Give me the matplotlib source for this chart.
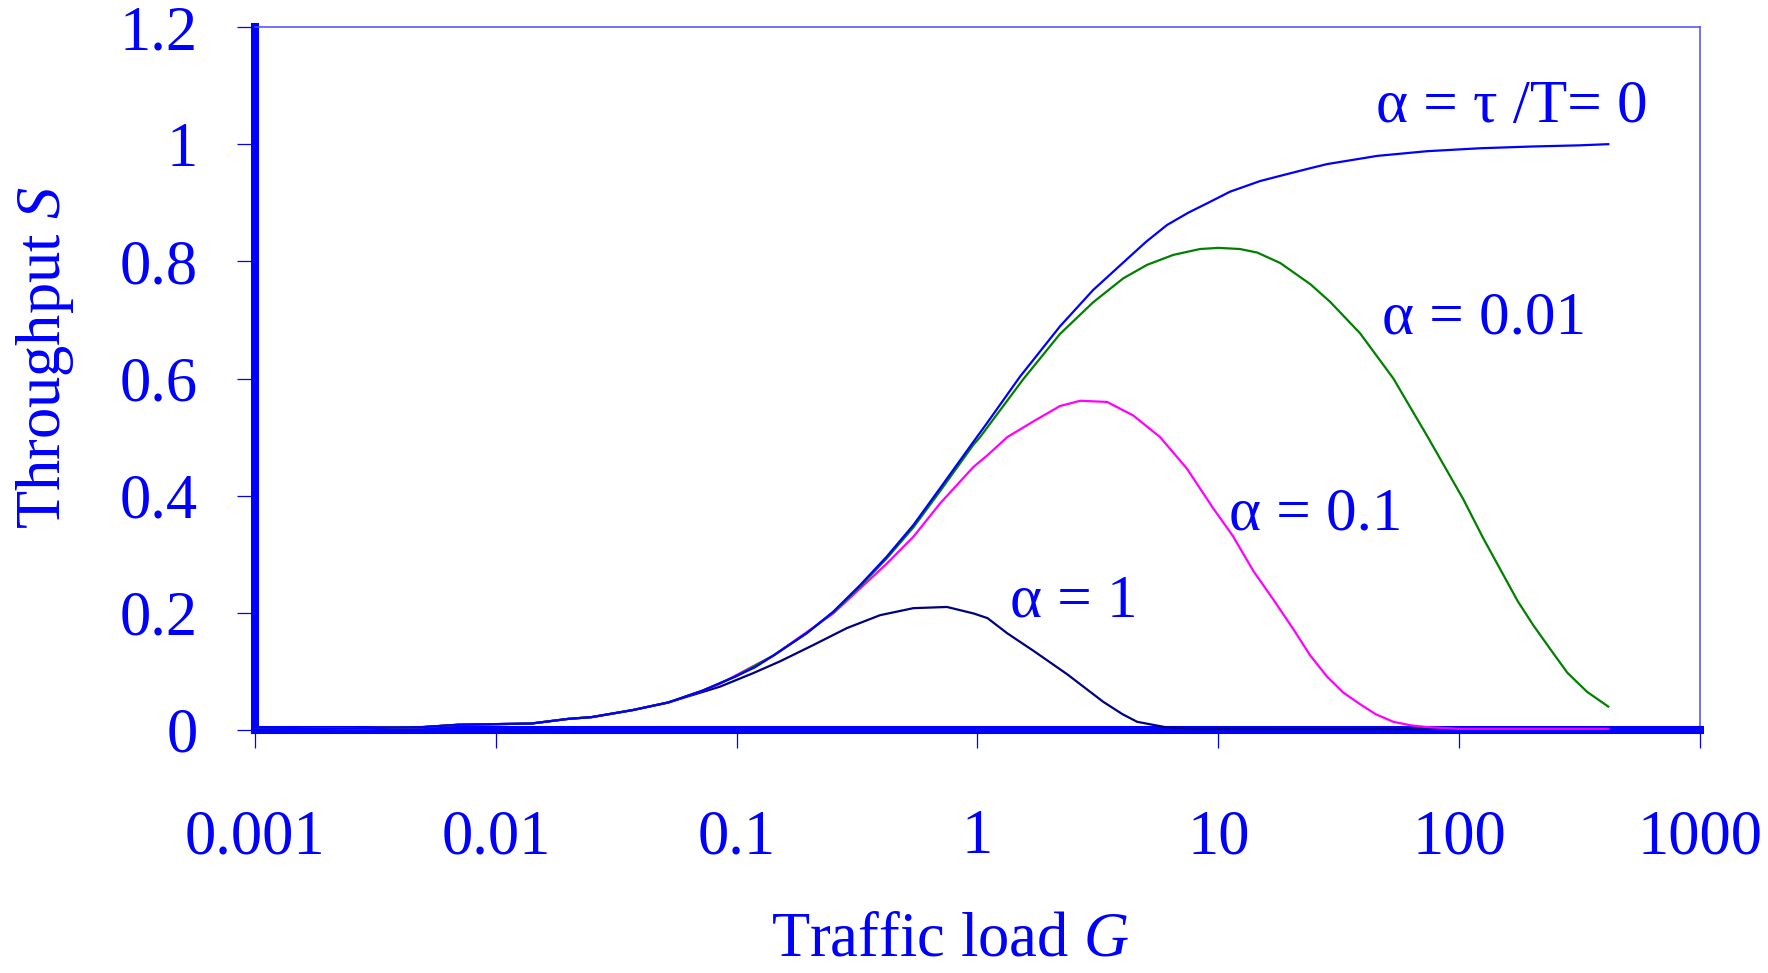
import matplotlib
matplotlib.use("Agg")
import matplotlib.pyplot as plt
import numpy as np

# ---------------- data ----------------
G_low = [0.001, 0.002, 0.005, 0.007, 0.014, 0.02, 0.025, 0.037, 0.052]
S_low = [0.001, 0.002, 0.005, 0.009, 0.011, 0.019, 0.022, 0.034, 0.047]

G_a0 = [0.072, 0.0985, 0.119, 0.142, 0.195, 0.252, 0.325, 0.42, 0.542, 0.70,
        0.962, 1.10, 1.5, 2.2, 3.02, 4.03, 5.0, 6.12, 7.5, 8.98, 11.2, 14.9,
        18.1, 24.1, 28.3, 45.7, 73.6, 122, 200, 316, 416]
S_a0 = [0.067, 0.091, 0.107, 0.127, 0.165, 0.202, 0.247, 0.296, 0.350, 0.413,
        0.492, 0.525, 0.603, 0.689, 0.751, 0.798, 0.833, 0.862, 0.883, 0.899,
        0.919, 0.937, 0.946, 0.959, 0.966, 0.980, 0.988, 0.993, 0.996, 0.998,
        1.000]

G_a001 = [0.072, 0.0985, 0.142, 0.195, 0.252, 0.325, 0.42, 0.542, 0.70, 0.962,
          1.025, 1.55, 2.2, 3.02, 4.03, 5.06, 6.5, 8.39, 10.0, 12.3, 14.5,
          18.1, 24.1, 29.1, 38.8, 53.3, 73.6, 104, 126, 152, 175, 203, 240,
          281, 340, 416]
S_a001 = [0.067, 0.091, 0.127, 0.165, 0.201, 0.245, 0.293, 0.346, 0.408, 0.487,
          0.500, 0.599, 0.676, 0.730, 0.771, 0.794, 0.811, 0.821, 0.823, 0.821,
          0.815, 0.797, 0.761, 0.731, 0.677, 0.600, 0.502, 0.394, 0.327, 0.266,
          0.220, 0.179, 0.137, 0.098, 0.065, 0.040]

G_a01 = [0.072, 0.0853, 0.142, 0.252, 0.42, 0.542, 0.70, 0.962, 1.10, 1.33,
         1.71, 2.2, 2.67, 3.45, 4.43, 5.73, 7.41, 9.5, 11.5, 14.0, 16.9, 20.5,
         24.0, 28.3, 33.0, 38.8, 45.0, 53.3, 63.0, 73.6, 100, 416]
S_a01 = [0.067, 0.079, 0.127, 0.199, 0.284, 0.330, 0.387, 0.449, 0.469, 0.500,
         0.527, 0.553, 0.562, 0.560, 0.537, 0.500, 0.446, 0.379, 0.331, 0.271,
         0.223, 0.172, 0.128, 0.091, 0.064, 0.044, 0.027, 0.014, 0.008, 0.005,
         0.002, 0.002]

G_a1 = [0.0853, 0.117, 0.151, 0.208, 0.287, 0.394, 0.542, 0.747, 0.962, 1.10,
        1.33, 1.71, 2.36, 3.33, 4.0, 4.6, 6.0, 8.0, 416]
S_a1 = [0.074, 0.097, 0.117, 0.145, 0.174, 0.196, 0.208, 0.210, 0.199, 0.191,
        0.165, 0.135, 0.095, 0.048, 0.027, 0.014, 0.005, 0.002, 0.001]

x_ticks = [0.001, 0.01, 0.1, 1, 10, 100, 1000]
x_ticklabels = ["0.001", "0.01", "0.1", "1", "10", "100", "1000"]
y_ticks = [0, 0.2, 0.4, 0.6, 0.8, 1.0, 1.2]
y_ticklabels = ["0", "0.2", "0.4", "0.6", "0.8", "1", "1.2"]

labels = ["\u03b1 = \u03c4 /T= 0", "\u03b1 = 0.01", "\u03b1 = 0.1", "\u03b1 = 1"]
label_pos = [(45.2, 1.0375), (47.9, 0.677), (11.1, 0.343), (1.365, 0.193)]

# ---------------- style ----------------
BLUE = "#0000ff"
plt.rcParams["font.family"] = ["Liberation Serif", "DejaVu Serif"]
plt.rcParams["mathtext.fontset"] = "custom"
plt.rcParams["mathtext.rm"] = "Liberation Serif"
plt.rcParams["mathtext.it"] = "Liberation Serif:italic"

W, H = 1768, 973
fig = plt.figure(figsize=(W / 100, H / 100), dpi=100)
fig.patch.set_facecolor("white")
ax = fig.add_axes([255 / W, 1 - 730 / H, (1700 - 255) / W, (730 - 27) / H])
ax.set_facecolor("white")

series = [
    (G_low + G_a1, S_low + S_a1, "#000080"),
    (G_low + G_a01, S_low + S_a01, "#ff00ff"),
    (G_low + G_a001, S_low + S_a001, "#008000"),
    (G_low + G_a0, S_low + S_a0, BLUE),
]
for g, s, c in series:
    ax.plot(g, s, color=c, lw=1.6, zorder=3, solid_joinstyle="round")

ax.set_xscale("log")
ax.set_xlim(0.001, 1000)
ax.set_ylim(0, 1.2)
ax.xaxis.set_minor_locator(matplotlib.ticker.NullLocator())
ax.set_xticks(x_ticks, x_ticklabels)
ax.set_yticks(y_ticks, y_ticklabels)

for side in ["left", "bottom"]:
    ax.spines[side].set_color(BLUE)
    ax.spines[side].set_linewidth(5.8)
for side in ["top", "right"]:
    ax.spines[side].set_color("#4a4aff")
    ax.spines[side].set_linewidth(1.1)

ax.tick_params(axis="y", direction="out", length=13, width=0.9, color=BLUE,
               labelcolor=BLUE, labelsize=45, pad=28)
ax.tick_params(axis="x", direction="out", length=13, width=0.9, color=BLUE,
               labelcolor=BLUE, labelsize=45, pad=44)

for txt, (gx, sy) in zip(labels, label_pos):
    ax.text(gx, sy, txt, color=BLUE, fontsize=44, ha="left", va="baseline",
            zorder=4)

fig.text(45 / W, 1 - 358 / H, "Throughput $S$", rotation=90, color=BLUE,
         fontsize=45, ha="center", va="center")
fig.text(950 / W, 3 / H, "Traffic load $G$", color=BLUE, fontsize=45,
         ha="center", va="bottom")

fig.savefig("out.png", dpi=100)
